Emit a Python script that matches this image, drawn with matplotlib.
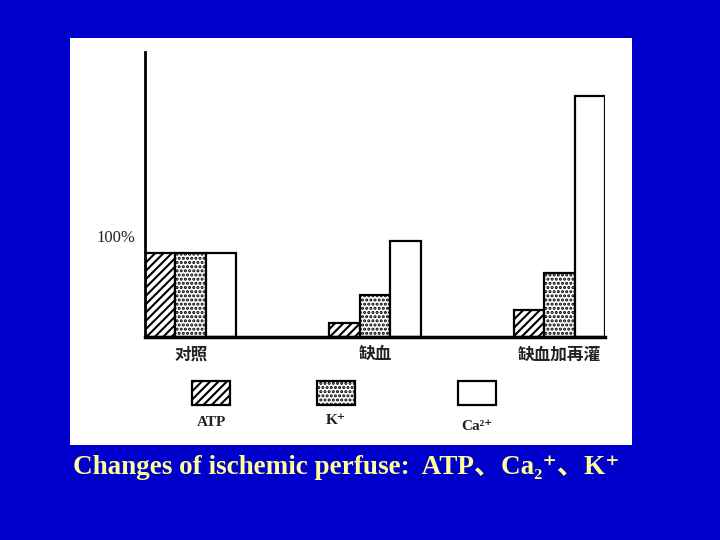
import matplotlib.pyplot as plt
from matplotlib.patches import Rectangle
import numpy as np

# Daten (in % vom Kontrollwert)
gruppen = ["对照", "缺血", "缺血加再灌"]
atp = [100, 17, 32]
kalium = [100, 50, 76]
calcium = [100, 115, 287]
legende = ["ATP", "K⁺", "Ca²⁺"]
titel = "Changes of ischemic perfuse:  ATP、Ca₂⁺、K⁺"

blau = "#0000CC"
plt.rcParams['hatch.linewidth'] = 1.5

fig = plt.figure(figsize=(7.2, 5.4), dpi=100)
fig.patch.set_facecolor(blau)

# weisses Bildfeld
fig.add_artist(Rectangle((70 / 720, 1 - 445 / 540), 562 / 720, 407 / 540,
                         transform=fig.transFigure, facecolor="white",
                         edgecolor="none", zorder=0))

ax = fig.add_axes([145 / 720, 1 - 337 / 540, 460 / 720, 285 / 540])
ax.set_facecolor("none")

x = np.arange(len(gruppen))
w = 0.165
stile = [("////", atp), ("....", kalium), ("", calcium)]
for i, (hatch, werte) in enumerate(stile):
    ax.bar(x + (i - 1) * w, werte, width=w, facecolor="white",
           edgecolor="black", linewidth=1.6, hatch=hatch)

ax.set_xlim(-1.5 * w, 2 + 1.5 * w)
ax.set_ylim(0, 340)
ax.spines['top'].set_visible(False)
ax.spines['right'].set_visible(False)
ax.spines['left'].set_linewidth(2)
ax.spines['bottom'].set_linewidth(2.5)
ax.set_yticks([])
ax.set_xticks(x)
ax.set_xticklabels(gruppen, fontfamily=["Noto Sans CJK SC", "DejaVu Sans"],
                   fontsize=12, fontweight="bold", color="#222222")
ax.tick_params(axis="x", length=0, pad=6)

ax.text(-0.02, 118, "100%", transform=ax.get_yaxis_transform(), ha="right",
        va="center", fontsize=12, family="Liberation Serif", color="#222222")

# Legende unterhalb
leg_x = [192, 317, 458]
leg_lab_y = [423, 420, 427]
for (hatch, _), xp, lab, ly in zip(stile, leg_x, legende, leg_lab_y):
    fig.add_artist(Rectangle((xp / 720, 1 - 405 / 540), 38 / 720, 24 / 540,
                             transform=fig.transFigure, facecolor="white",
                             edgecolor="black", linewidth=1.6, hatch=hatch))
    fig.text((xp + 19) / 720, 1 - ly / 540, lab, ha="center", va="center",
             fontsize=11, fontweight="bold",
             family=["Liberation Serif", "DejaVu Serif"], color="#222222")

# Bildunterschrift
fig.text(73 / 720, 1 - 467 / 540, titel, ha="left", va="center",
         fontsize=19.5, fontweight="bold", color="#FFFF99",
         family=["Liberation Serif", "DejaVu Serif", "Noto Sans CJK SC"])

plt.savefig("out.png", dpi=100, facecolor=fig.get_facecolor())
